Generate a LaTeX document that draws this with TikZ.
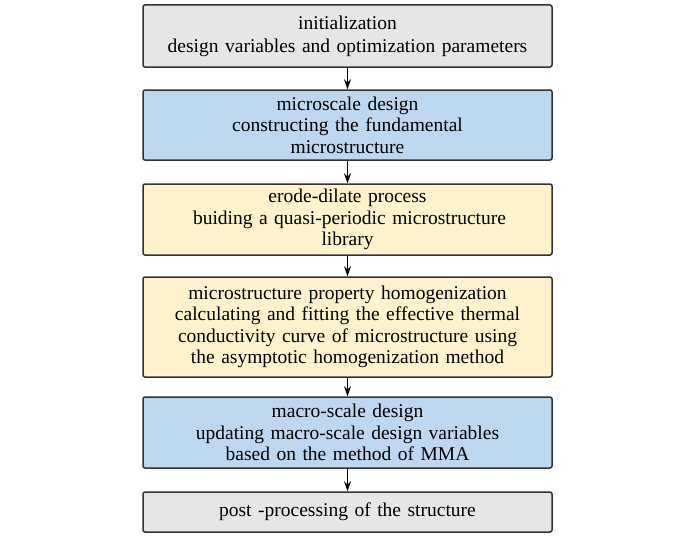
\documentclass[tikz,border=0pt]{standalone}
\usepackage{fontspec}
\setmainfont{Liberation Serif}
\usetikzlibrary{arrows.meta}
\definecolor{boxgray}{HTML}{E6E6E6}
\definecolor{boxblue}{HTML}{BDD7EE}
\definecolor{boxyellow}{HTML}{FFF2CC}
\definecolor{edge}{HTML}{333333}
\tikzset{
    stepnode/.style={draw=edge, line width=1.5pt, rounded corners=2pt, align=center,
        minimum width=409pt, text width=400pt, inner sep=2pt,
        font=\fontsize{19.5}{21.5}\selectfont},
    flow/.style={-{Stealth[length=10pt,width=7pt]}, line width=1.1pt, draw=black}
}
\begin{document}
\begin{tikzpicture}
        \useasboundingbox (0,0) rectangle (700pt,-535pt);
        \node[stepnode, fill=boxgray, minimum height=62pt, font=\fontsize{19.5}{23}\selectfont] (init) at (347.5pt,-36pt) {initialization\\design variables and optimization parameters};
        \node[stepnode, fill=boxblue, minimum height=70pt] (micro) at (347.5pt,-125pt) {microscale design\\constructing the fundamental\\microstructure};
        \node[stepnode, fill=boxyellow, minimum height=71pt] (erode) at (347.5pt,-219.5pt) {erode-dilate process\\\hspace*{4pt}buiding a quasi-periodic microstructure\\library};
        \node[stepnode, fill=boxyellow, minimum height=100pt] (homog) at (347.5pt,-327pt) {microstructure property homogenization\\calculating and fitting the effective thermal\\conductivity curve of microstructure using\\the asymptotic homogenization method};
        \node[stepnode, fill=boxblue, minimum height=71pt] (macro) at (347.5pt,-432.5pt) {macro-scale design\\updating macro-scale design variables\\based on the method of MMA};
        \node[stepnode, fill=boxgray, minimum height=40pt] (post) at (347.5pt,-512pt) {post -processing of the structure};
        \draw[flow] (init) -- (micro);
        \draw[flow] (micro) -- (erode);
        \draw[flow] (erode) -- (homog);
        \draw[flow] (homog) -- (macro);
        \draw[flow] (macro) -- (post);
    \end{tikzpicture}
\end{document}
